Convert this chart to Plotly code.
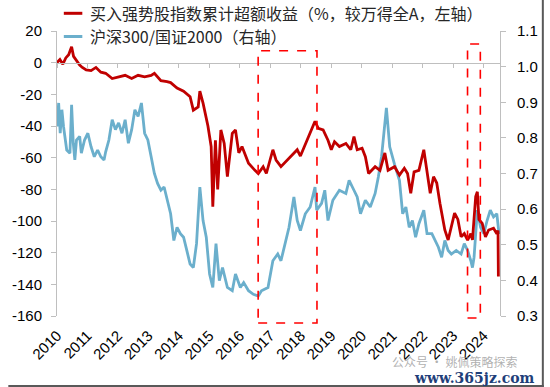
import pandas as pd
import plotly.graph_objects as go

# ---------------- data ----------------
# time positions are expressed as years elapsed since 2010-01-01
red_t = [0.000, 0.096, 0.192, 0.288, 0.383, 0.479, 0.543, 0.639, 0.744, 0.831,
         0.958, 1.118, 1.278, 1.438, 1.597, 1.811, 2.022, 2.236, 2.450, 2.661,
         2.875, 3.089, 3.195, 3.409, 3.610, 3.728, 3.939, 4.153, 4.367, 4.473,
         4.633, 4.687, 4.792, 4.952, 5.058, 5.112, 5.198, 5.272, 5.377, 5.486,
         5.591, 5.751, 5.856, 5.965, 6.070, 6.284, 6.495, 6.604, 6.764, 6.869,
         7.083, 7.188, 7.348, 7.454, 7.668, 7.882, 7.987, 8.201, 8.466, 8.572,
         8.732, 8.891, 9.000, 9.105, 9.265, 9.479, 9.639, 9.744, 9.850, 10.010,
         10.118, 10.224, 10.438, 10.597, 10.757, 10.863, 11.077, 11.236, 11.396, 11.502,
         11.607, 11.716, 11.875, 12.035, 12.141, 12.246, 12.355, 12.460, 12.566, 12.725,
         12.834, 12.939, 13.045, 13.153, 13.259, 13.364, 13.473, 13.578, 13.632, 13.738,
         13.792, 13.843, 13.952, 14.058, 14.163, 14.323, 14.431, 14.470, 14.482]
red_excess = [0, 2, -1, 3, 5, 10, 4, 1, -1.5, -3,
              -4.6, -5, -3, -6, -6.7, -10, -9, -8, -10, -8,
              -9, -8, -6.7, -11.4, -12, -12.6, -16, -18, -21.5, -30,
              -28, -18, -25.6, -40, -53, -91, -49, -80, -42.5, -51,
              -72, -44.6, -42.5, -57, -53, -63.5, -68, -70, -65.7, -70,
              -55, -61.5, -65.7, -63.6, -59.4, -55, -59, -49, -37, -41.5,
              -42.5, -49, -55, -50, -53, -51, -55, -46.7, -55, -54,
              -59.4, -70, -65.7, -68, -57, -68, -65.7, -71, -66.7, -70,
              -82.5, -69, -68, -55, -69, -82.5, -72, -76, -89, -105.7,
              -112, -103.6, -95, -99, -110, -108, -112, -108, -112, -84.6,
              -81.5, -99, -101.5, -110, -105.7, -104.6, -108, -106, -135]

blue_t = [0.000, 0.054, 0.105, 0.160, 0.214, 0.319, 0.425, 0.479, 0.534, 0.585,
          0.639, 0.744, 0.799, 0.904, 1.013, 1.118, 1.224, 1.332, 1.438, 1.543,
          1.597, 1.703, 1.811, 1.917, 2.022, 2.131, 2.236, 2.342, 2.450, 2.556,
          2.661, 2.770, 2.875, 2.981, 3.089, 3.195, 3.300, 3.409, 3.514, 3.620,
          3.728, 3.834, 3.939, 4.048, 4.153, 4.259, 4.367, 4.473, 4.578, 4.687,
          4.792, 4.898, 5.006, 5.112, 5.217, 5.326, 5.431, 5.591, 5.751, 5.856,
          6.016, 6.125, 6.284, 6.444, 6.604, 6.709, 6.923, 7.083, 7.243, 7.348,
          7.508, 7.613, 7.773, 7.882, 7.987, 8.147, 8.307, 8.466, 8.521, 8.681,
          8.786, 8.891, 9.051, 9.265, 9.479, 9.585, 9.744, 9.850, 9.958, 10.118,
          10.278, 10.438, 10.543, 10.649, 10.808, 10.917, 11.077, 11.236, 11.342, 11.447,
          11.556, 11.661, 11.767, 11.875, 12.035, 12.141, 12.300, 12.406, 12.514, 12.620,
          12.725, 12.834, 12.939, 13.099, 13.259, 13.364, 13.473, 13.578, 13.632, 13.684,
          13.792, 13.898, 14.003, 14.112, 14.217, 14.323, 14.431, 14.505]
blue_ratio = [0.832, 0.898, 0.813, 0.879, 0.832, 0.766, 0.757, 0.893, 0.785, 0.738,
              0.794, 0.804, 0.757, 0.794, 0.813, 0.775, 0.747, 0.766, 0.747, 0.738,
              0.761, 0.794, 0.851, 0.823, 0.842, 0.813, 0.851, 0.785, 0.823, 0.879,
              0.860, 0.898, 0.813, 0.794, 0.747, 0.700, 0.672, 0.653, 0.662, 0.625,
              0.587, 0.512, 0.549, 0.531, 0.521, 0.484, 0.446, 0.436, 0.503, 0.662,
              0.568, 0.521, 0.418, 0.380, 0.503, 0.399, 0.436, 0.380, 0.371, 0.418,
              0.380, 0.394, 0.371, 0.361, 0.356, 0.371, 0.380, 0.455, 0.474, 0.455,
              0.512, 0.549, 0.634, 0.568, 0.540, 0.587, 0.606, 0.662, 0.597, 0.616,
              0.653, 0.568, 0.625, 0.653, 0.644, 0.681, 0.653, 0.634, 0.587, 0.625,
              0.606, 0.644, 0.690, 0.747, 0.884, 0.775, 0.725, 0.681, 0.587, 0.606,
              0.549, 0.568, 0.521, 0.559, 0.597, 0.531, 0.531, 0.512, 0.493, 0.465,
              0.512, 0.484, 0.474, 0.484, 0.474, 0.503, 0.484, 0.455, 0.436, 0.465,
              0.597, 0.549, 0.531, 0.568, 0.597, 0.578, 0.587, 0.530]

years = list(range(2010, 2025))
year_labels = [str(y) for y in years]
left_ticks = [20, 0, -20, -40, -60, -80, -100, -120, -140, -160]
left_labels = ["20", "0", "-20", "-40", "-60", "-80", "-100", "-120", "-140", "-160"]
right_ticks = [0.3, 0.4, 0.5, 0.6, 0.7, 0.8, 0.9, 1.0, 1.1]
right_labels = ["0.3", "0.4", "0.5", "0.6", "0.7", "0.8", "0.9", "1.0", "1.1"]
highlight_periods = [(6.60, 8.53), (13.47, 13.89)]  # years since 2010-01-01

red_name = "买入强势股指数累计超额收益（%，较万得全A，左轴）"
blue_name = "沪深300/国证2000（右轴）"

assert len(red_t) == len(red_excess)
assert len(blue_t) == len(blue_ratio)

BASE = pd.Timestamp("2010-01-01")


def to_date(t):
    return BASE + pd.to_timedelta(t * 365.25, unit="D")


red_x = [to_date(t) for t in red_t]
blue_x = [to_date(t) for t in blue_t]
year_dates = [pd.Timestamp(f"{y}-01-01") for y in years]
x_range = [pd.Timestamp("2010-01-01"), pd.Timestamp("2024-07-15")]

# ---------------- layout geometry ----------------
W, H = 550, 387
ML, MR, MT, MB = 50, 45, 31, 71
PW, PH = W - ML - MR, H - MT - MB


def px(xp):
    return (xp - ML) / PW


def py(yp):
    return (MT + PH - yp) / PH


AX = "#BFBFBF"
TICKFONT = dict(family="Arial, Liberation Sans, sans-serif", size=15, color="#000000")
CJK = "Noto Sans CJK SC, Noto Sans, sans-serif"
RED = "#C00000"
BLUE = "#6BAFCC"

fig = go.Figure()
fig.add_trace(go.Scatter(x=blue_x, y=blue_ratio, mode="lines", name=blue_name,
                         line=dict(color=BLUE, width=2.8), xaxis="x", yaxis="y",
                         showlegend=False, hoverinfo="skip"))
fig.add_trace(go.Scatter(x=red_x, y=red_excess, mode="lines", name=red_name,
                         line=dict(color=RED, width=2.8), xaxis="x", yaxis="y2",
                         showlegend=False, hoverinfo="skip"))
# helper trace for the category axis line drawn at y = 0
fig.add_trace(go.Scatter(x=[x_range[0]], y=[0], mode="markers", marker=dict(opacity=0),
                         xaxis="x2", yaxis="y2", showlegend=False, hoverinfo="skip"))

fig.update_layout(
    width=W, height=H,
    margin=dict(l=ML, r=MR, t=MT, b=MB),
    paper_bgcolor="white", plot_bgcolor="white",
    showlegend=False,
    xaxis=dict(range=x_range, type="date", tickvals=year_dates, ticktext=year_labels,
               tickangle=-45, showline=False, ticks="", showgrid=False, zeroline=False,
               tickfont=TICKFONT, ticklabelstandoff=7),
    xaxis2=dict(range=x_range, type="date", overlaying="x", anchor="free",
                position=(0 - left_ticks[-1]) / (left_ticks[0] - left_ticks[-1]),
                side="bottom", showline=True, linecolor=AX, linewidth=1,
                ticks="outside", ticklen=4, tickcolor=AX, tickvals=year_dates,
                showticklabels=False, showgrid=False, zeroline=False),
    yaxis=dict(range=[right_ticks[0], right_ticks[-1]], side="right",
               tickvals=right_ticks, ticktext=right_labels, showline=True,
               linecolor=AX, linewidth=1, ticks="outside", ticklen=5, tickcolor=AX,
               showgrid=False, zeroline=False, tickfont=TICKFONT, ticklabelstandoff=8),
    yaxis2=dict(range=[left_ticks[-1], left_ticks[0]], side="left", overlaying="y",
                tickvals=left_ticks, ticktext=left_labels, showline=True,
                linecolor=AX, linewidth=1, ticks="outside", ticklen=5, tickcolor=AX,
                showgrid=False, zeroline=False, tickfont=TICKFONT, ticklabelstandoff=6),
)

shapes = []
# highlighted periods (dashed red boxes)
box_tops = [50.7, 44.0]
box_bottoms = [323.0, 318.0]
for (a, b), top, bot in zip(highlight_periods, box_tops, box_bottoms):
    shapes.append(dict(type="rect", xref="x", yref="paper", x0=to_date(a), x1=to_date(b),
                       y0=py(bot), y1=py(top), line=dict(color="#FF0000", width=1.6, dash="dash"),
                       fillcolor="rgba(0,0,0,0)", layer="above"))
# legend samples
for yy, col in [(13.3, RED), (36.5, BLUE)]:
    shapes.append(dict(type="line", xref="paper", yref="paper", x0=px(57), x1=px(76),
                       y0=py(yy), y1=py(yy), line=dict(color=col, width=3)))
# frame edges of the picture (right and bottom)
shapes.append(dict(type="line", xref="paper", yref="paper", x0=px(549), x1=px(549),
                   y0=py(0), y1=py(387), line=dict(color="#595959", width=2)))
shapes.append(dict(type="line", xref="paper", yref="paper", x0=px(0), x1=px(550),
                   y0=py(386), y1=py(386), line=dict(color="#595959", width=2)))
fig.update_layout(shapes=shapes)

annotations = [
    dict(text=red_name, xref="paper", yref="paper", x=px(82), y=py(13.3), xanchor="left",
         yanchor="middle", showarrow=False, font=dict(family=CJK, size=16, color="#262626")),
    dict(text=blue_name, xref="paper", yref="paper", x=px(82), y=py(36.5), xanchor="left",
         yanchor="middle", showarrow=False, font=dict(family=CJK, size=16, color="#262626")),
    dict(text="公众号 · 姚佩策略探索", xref="paper", yref="paper", x=px(392), y=py(361),
         xanchor="left", yanchor="middle", showarrow=False,
         font=dict(family=CJK, size=12, color="rgba(150,150,150,0.75)")),
    dict(text="<b>www.365jz.com</b>", xref="paper", yref="paper", x=px(543), y=py(377.5),
         xanchor="right", yanchor="middle", showarrow=False,
         font=dict(family="DejaVu Serif, Liberation Serif, serif", size=14, color="#1F3F7A")),
]
fig.update_layout(annotations=annotations)

fig.write_html("out.html", config={"displayModeBar": False, "staticPlot": True},
               post_script="document.body.style.margin='0';document.body.style.overflow='hidden';")
